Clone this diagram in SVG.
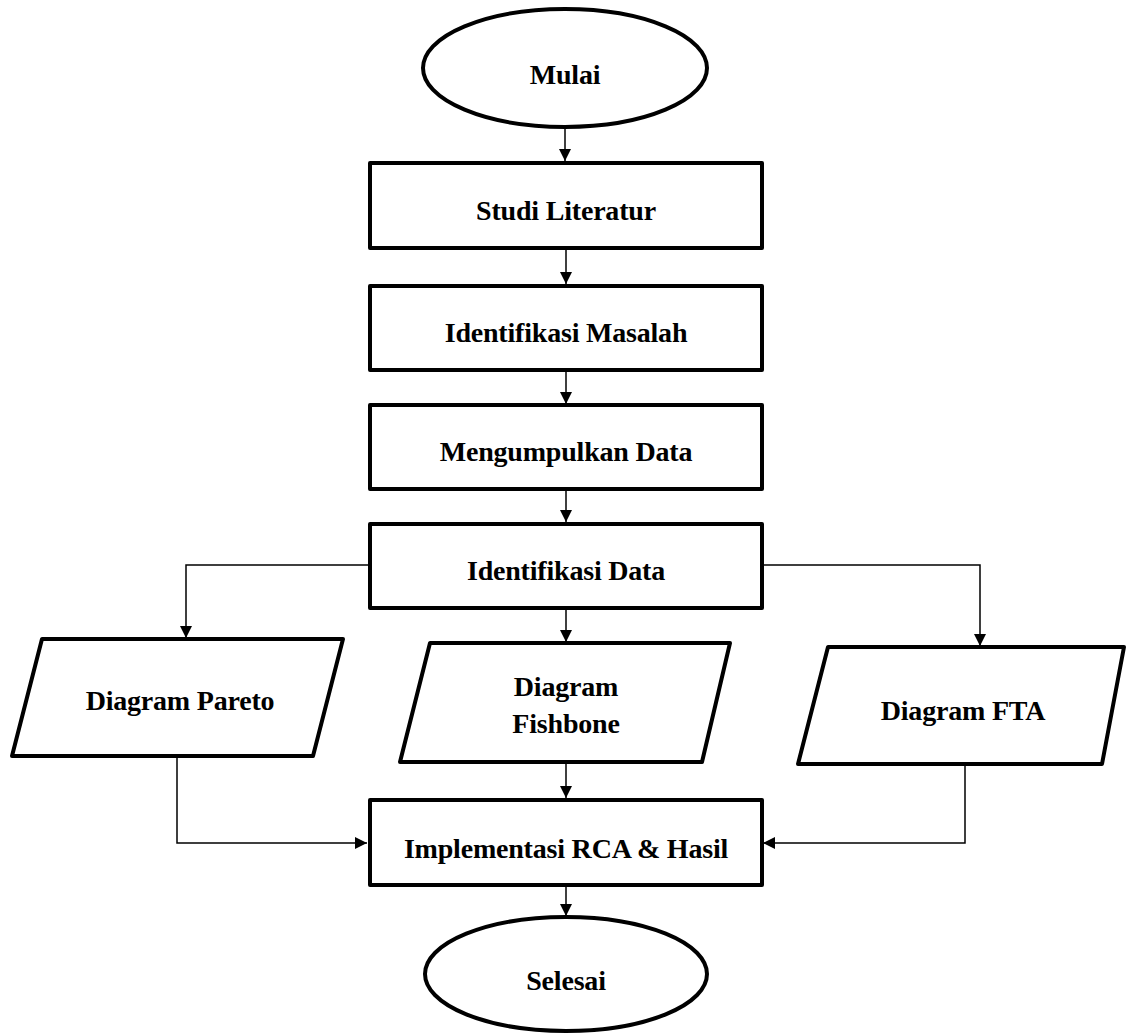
<svg xmlns="http://www.w3.org/2000/svg" width="1126" height="1034" viewBox="0 0 1126 1034">
<defs>
<style>
.shape{fill:#fff;stroke:#000;stroke-width:4;stroke-linejoin:round}
.conn{fill:none;stroke:#000;stroke-width:1.5}
text{font-family:"Liberation Serif","Times New Roman",serif;font-weight:bold;font-size:28px;letter-spacing:-0.2px;text-anchor:middle;fill:#000}
</style>
<marker id="arr" viewBox="0 0 12 12" refX="12" refY="6" markerWidth="12" markerHeight="12" markerUnits="userSpaceOnUse" orient="auto">
<path d="M0,0 L12,6 L0,12 Z" fill="#000"/>
</marker>
</defs>
<rect width="1126" height="1034" fill="#fff"/>
<g id="connectors">
<line class="conn" x1="565" y1="129" x2="565" y2="161" marker-end="url(#arr)"/>
<line class="conn" x1="566" y1="249" x2="566" y2="284" marker-end="url(#arr)"/>
<line class="conn" x1="566" y1="371" x2="566" y2="404" marker-end="url(#arr)"/>
<line class="conn" x1="566" y1="491" x2="566" y2="522" marker-end="url(#arr)"/>
<line class="conn" x1="566" y1="609" x2="566" y2="642" marker-end="url(#arr)"/>
<polyline class="conn" points="370,565 186,565 186,638" marker-end="url(#arr)"/>
<polyline class="conn" points="762,565 980,565 980,646" marker-end="url(#arr)"/>
<line class="conn" x1="566" y1="763" x2="566" y2="798" marker-end="url(#arr)"/>
<polyline class="conn" points="177,757 177,843 367,843" marker-end="url(#arr)"/>
<polyline class="conn" points="965,765 965,843 763,843" marker-end="url(#arr)"/>
<line class="conn" x1="566" y1="886" x2="566" y2="916" marker-end="url(#arr)"/>
</g>
<g id="mulai">
<ellipse class="shape" cx="565" cy="68" rx="142" ry="59"/>
<text x="565" y="84">Mulai</text>
</g>
<g id="studi-literatur">
<rect class="shape" x="370" y="163" width="392" height="85"/>
<text x="566" y="220">Studi Literatur</text>
</g>
<g id="identifikasi-masalah">
<rect class="shape" x="370" y="286" width="392" height="84"/>
<text x="566" y="342">Identifikasi Masalah</text>
</g>
<g id="mengumpulkan-data">
<rect class="shape" x="370" y="405" width="392" height="84"/>
<text x="566" y="461">Mengumpulkan Data</text>
</g>
<g id="identifikasi-data">
<rect class="shape" x="370" y="524" width="392" height="84"/>
<text x="566" y="580">Identifikasi Data</text>
</g>
<g id="diagram-pareto">
<polygon class="shape" points="42,639 343,639 313,756 12,756"/>
<text x="180" y="710">Diagram Pareto</text>
</g>
<g id="diagram-fishbone">
<polygon class="shape" points="430,643 730,643 702,762 400,762"/>
<text x="566" y="696">Diagram</text>
<text x="566" y="733">Fishbone</text>
</g>
<g id="diagram-fta">
<polygon class="shape" points="828,647 1124,647 1102,764 798,764"/>
<text x="963" y="720">Diagram FTA</text>
</g>
<g id="implementasi">
<rect class="shape" x="370" y="800" width="392" height="85"/>
<text x="566" y="858">Implementasi RCA &amp; Hasil</text>
</g>
<g id="selesai">
<ellipse class="shape" cx="566" cy="974" rx="141" ry="57"/>
<text x="566" y="990">Selesai</text>
</g>
</svg>
